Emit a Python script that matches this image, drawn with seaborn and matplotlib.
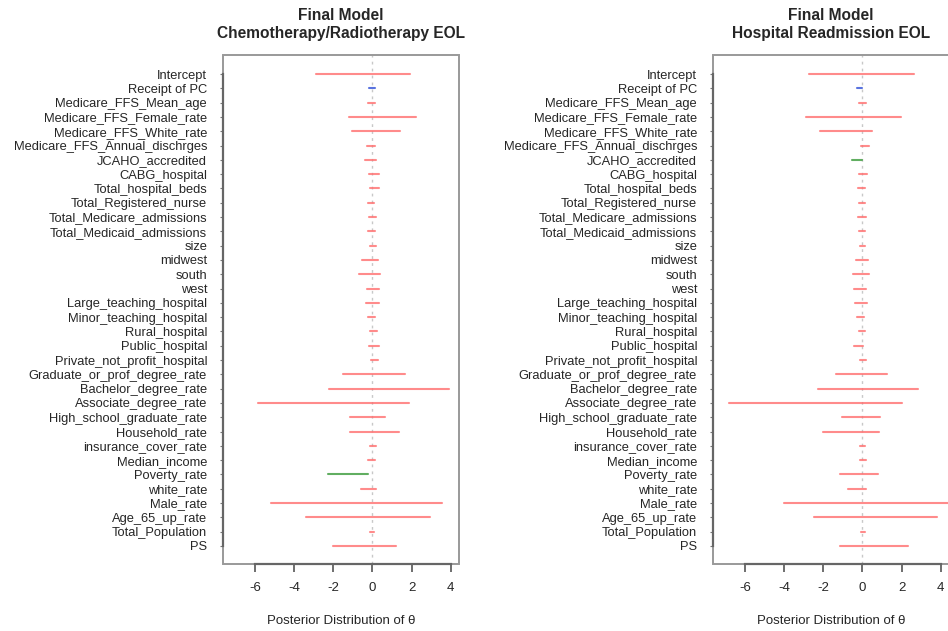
import pandas as pd
import numpy as np
import matplotlib
matplotlib.use("Agg")
from matplotlib import pyplot as plt
from matplotlib.patches import Rectangle
import seaborn as sns

terms = ["Intercept", "Receipt of PC", "Medicare_FFS_Mean_age", "Medicare_FFS_Female_rate",
         "Medicare_FFS_White_rate", "Medicare_FFS_Annual_dischrges", "JCAHO_accredited",
         "CABG_hospital", "Total_hospital_beds", "Total_Registered_nurse",
         "Total_Medicare_admissions", "Total_Medicaid_admissions", "size", "midwest", "south",
         "west", "Large_teaching_hospital", "Minor_teaching_hospital", "Rural_hospital",
         "Public_hospital", "Private_not_profit_hospital", "Graduate_or_prof_degree_rate",
         "Bachelor_degree_rate", "Associate_degree_rate", "High_school_graduate_rate",
         "Household_rate", "insurance_cover_rate", "Median_income", "Poverty_rate",
         "white_rate", "Male_rate", "Age_65_up_rate", "Total_Population", "PS"]

# chemotherapy / radiotherapy model: lower and upper ends of each interval
chemo_lo = [-2.88, -0.20, -0.22, -1.19, -1.04, -0.27, -0.38, -0.17, -0.12, -0.24, -0.20, -0.24,
            -0.15, -0.53, -0.70, -0.27, -0.32, -0.22, -0.12, -0.17, -0.07, -1.53, -2.20, -5.85,
            -1.16, -1.14, -0.12, -0.24, -2.27, -0.61, -5.17, -3.38, -0.12, -2.03]
chemo_hi = [1.91, 0.14, 0.12, 2.23, 1.40, 0.15, 0.19, 0.32, 0.32, 0.09, 0.19, 0.15,
            0.17, 0.27, 0.39, 0.32, 0.32, 0.15, 0.24, 0.36, 0.27, 1.65, 3.92, 1.89,
            0.65, 1.35, 0.19, 0.12, -0.24, 0.17, 3.55, 2.92, 0.07, 1.18]

# hospital readmission model
readm_lo = [-2.71, -0.27, -0.17, -2.88, -2.16, -0.05, -0.53, -0.20, -0.24, -0.20, -0.22, -0.17,
            -0.15, -0.32, -0.48, -0.41, -0.36, -0.27, -0.20, -0.42, -0.12, -1.33, -2.27, -6.83,
            -1.07, -2.04, -0.13, -0.12, -1.14, -0.73, -4.00, -2.48, -0.07, -1.14]
readm_hi = [2.63, 0.00, 0.17, 1.96, 0.50, 0.33, -0.03, 0.24, 0.15, 0.14, 0.17, 0.15,
            0.12, 0.27, 0.36, 0.17, 0.21, 0.07, 0.15, 0.02, 0.17, 1.25, 2.83, 2.01,
            0.91, 0.85, 0.12, 0.17, 0.82, 0.19, 4.80, 3.80, 0.15, 2.32]

# colour group of each interval
chemo_grp = ["r"] * 34
chemo_grp[1] = "b"
chemo_grp[28] = "g"
readm_grp = ["r"] * 34
readm_grp[1] = "b"
readm_grp[6] = "g"

titles = ["Final Model\nChemotherapy/Radiotherapy EOL", "Final Model\nHospital Readmission EOL"]
palette = {"r": "#ff6e6e", "b": "#3050d8", "g": "#3a9a3a"}


def long_df(lo, hi, grp):
    rows = []
    for i, t in enumerate(terms):
        rows.append({"term": t, "pos": i, "theta": lo[i], "grp": grp[i]})
        rows.append({"term": t, "pos": i, "theta": hi[i], "grp": grp[i]})
    return pd.DataFrame(rows)


sns.set_style("white")
plt.rcParams["font.family"] = ["Liberation Sans", "DejaVu Sans"]

fig = plt.figure(figsize=(9.48, 6.31), dpi=100)
lefts = [223 / 948, 713 / 948]
datasets = [(chemo_lo, chemo_hi, chemo_grp), (readm_lo, readm_hi, readm_grp)]

for left, (lo, hi, grp), title in zip(lefts, datasets, titles):
    ax = fig.add_axes([left, 1 - 564 / 631, 235.5 / 948, 509 / 631])
    df = long_df(lo, hi, grp)
    ax.axvline(0, ls=(0, (2, 3)), color="#c8c8c8", lw=1, zorder=0)
    sns.lineplot(data=df, x="theta", y="pos", hue="grp", units="term", estimator=None,
                 palette=palette, sort=False, lw=1.5, alpha=0.8, legend=False, ax=ax)
    ax.set_xlim(-7.64, 4.40)
    ax.set_ylim(33 + 1.26, -1.33)
    ax.set_yticks(range(len(terms)))
    ax.set_yticklabels(terms, fontsize=9.3)
    ax.set_xticks([-6, -4, -2, 0, 2, 4])
    ax.set_xticklabels(["-6", "-4", "-2", "0", "2", "4"], fontsize=9.5)
    ax.tick_params(axis="x", bottom=True, length=6, width=1.2, color="#555555", pad=7)
    ax.tick_params(axis="y", left=True, length=2, width=0.8, color="#777777", pad=9.5)
    for s in ["top", "right"]:
        ax.spines[s].set_visible(False)
    ax.spines["left"].set_bounds(0, 33)
    ax.spines["bottom"].set_bounds(-6, 4)
    for s in ["left", "bottom"]:
        ax.spines[s].set_color("#666666")
        ax.spines[s].set_linewidth(1.6)
    ax.add_patch(Rectangle((0, 0), 1, 1, transform=ax.transAxes, fill=False,
                           ec="#999999", lw=1.4, clip_on=False, zorder=0))
    ax.set_xlabel("Posterior Distribution of \u03b8", fontsize=9.5, labelpad=15)
    ax.set_ylabel("")
    ax.set_title(title, fontsize=11.2, fontweight="bold", pad=12, linespacing=1.25)

fig.savefig("out.png", dpi=100)
